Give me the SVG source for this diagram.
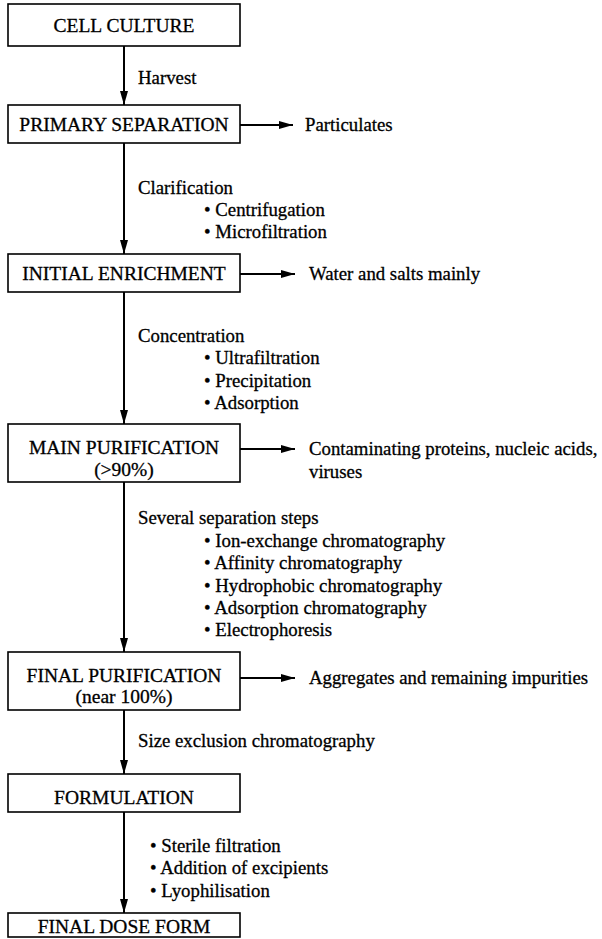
<svg xmlns="http://www.w3.org/2000/svg" width="602" height="939" viewBox="0 0 602 939">
  <style>
    .box { fill: #ffffff; stroke: #000000; stroke-width: 1.6; }
    .wire { stroke: #000000; stroke-width: 2; fill: none; }
    .lbl { font-family: "Liberation Serif", "Times New Roman", serif; font-size: 18.8px; fill: #000000; stroke: #000000; stroke-width: 0.3; }
    .ttl { font-family: "Liberation Serif", "Times New Roman", serif; font-size: 19.5px; fill: #000000; stroke: #000000; stroke-width: 0.3; text-anchor: middle; }
  </style>
  <defs>
    <marker id="head" viewBox="0 0 14 8" refX="14" refY="4" markerWidth="14" markerHeight="8" markerUnits="userSpaceOnUse" orient="auto">
      <path d="M0,0 L14,4 L0,8 Z" fill="#000000"/>
    </marker>
  </defs>
  <rect width="602" height="939" fill="#ffffff"/>

  <!-- process flow connectors -->
  <g id="connectors">
    <line class="wire" x1="124" y1="46" x2="124" y2="105" marker-end="url(#head)"/>
    <line class="wire" x1="124" y1="143" x2="124" y2="254" marker-end="url(#head)"/>
    <line class="wire" x1="124" y1="292" x2="124" y2="424" marker-end="url(#head)"/>
    <line class="wire" x1="124" y1="482" x2="124" y2="652" marker-end="url(#head)"/>
    <line class="wire" x1="124" y1="710" x2="124" y2="774" marker-end="url(#head)"/>
    <line class="wire" x1="124" y1="812" x2="124" y2="913" marker-end="url(#head)"/>
    <line class="wire" x1="240" y1="125" x2="293" y2="125" marker-end="url(#head)"/>
    <line class="wire" x1="240" y1="274" x2="295" y2="274" marker-end="url(#head)"/>
    <line class="wire" x1="240" y1="449" x2="295" y2="449" marker-end="url(#head)"/>
    <line class="wire" x1="240" y1="678" x2="295" y2="678" marker-end="url(#head)"/>
  </g>

  <!-- process stages -->
  <g id="cell-culture">
    <rect class="box" x="8" y="4" width="232" height="42"/>
    <text class="ttl" x="124" y="32">CELL CULTURE</text>
  </g>
  <g id="primary-separation">
    <rect class="box" x="8" y="105" width="232" height="38"/>
    <text class="ttl" x="124" y="131">PRIMARY SEPARATION</text>
  </g>
  <g id="initial-enrichment">
    <rect class="box" x="8" y="254" width="232" height="38"/>
    <text class="ttl" x="124" y="280">INITIAL ENRICHMENT</text>
  </g>
  <g id="main-purification">
    <rect class="box" x="8" y="424" width="232" height="58"/>
    <text class="ttl" x="124" y="454">MAIN PURIFICATION</text>
    <text class="ttl" x="124" y="476">(&gt;90%)</text>
  </g>
  <g id="final-purification">
    <rect class="box" x="8" y="652" width="232" height="58"/>
    <text class="ttl" x="124" y="682">FINAL PURIFICATION</text>
    <text class="ttl" x="124" y="703">(near 100%)</text>
  </g>
  <g id="formulation">
    <rect class="box" x="8" y="774" width="232" height="38"/>
    <text class="ttl" x="124" y="804">FORMULATION</text>
  </g>
  <g id="final-dose-form">
    <rect class="box" x="8" y="913" width="232" height="24"/>
    <text class="ttl" x="124" y="933">FINAL DOSE FORM</text>
  </g>

  <!-- removed material -->
  <g id="out-particulates"><text class="lbl" x="305" y="131">Particulates</text></g>
  <g id="out-water"><text class="lbl" x="309" y="280">Water and salts mainly</text></g>
  <g id="out-contaminants">
    <text class="lbl" x="309" y="455">Contaminating proteins, nucleic acids,</text>
    <text class="lbl" x="309" y="478">viruses</text>
  </g>
  <g id="out-aggregates"><text class="lbl" x="309" y="684">Aggregates and remaining impurities</text></g>

  <!-- step annotations -->
  <g id="step-harvest"><text class="lbl" x="138" y="84">Harvest</text></g>
  <g id="step-clarification">
    <text class="lbl" x="138" y="194">Clarification</text>
    <text class="lbl" x="204" y="216">• Centrifugation</text>
    <text class="lbl" x="204" y="238">• Microfiltration</text>
  </g>
  <g id="step-concentration">
    <text class="lbl" x="138" y="342">Concentration</text>
    <text class="lbl" x="204" y="364">• Ultrafiltration</text>
    <text class="lbl" x="204" y="387">• Precipitation</text>
    <text class="lbl" x="204" y="409">• Adsorption</text>
  </g>
  <g id="step-separation">
    <text class="lbl" x="138" y="524">Several separation steps</text>
    <text class="lbl" x="204" y="547">• Ion-exchange chromatography</text>
    <text class="lbl" x="204" y="569">• Affinity chromatography</text>
    <text class="lbl" x="204" y="592">• Hydrophobic chromatography</text>
    <text class="lbl" x="204" y="614">• Adsorption chromatography</text>
    <text class="lbl" x="204" y="636">• Electrophoresis</text>
  </g>
  <g id="step-size-exclusion"><text class="lbl" x="138" y="747">Size exclusion chromatography</text></g>
  <g id="step-finishing">
    <text class="lbl" x="150" y="852">• Sterile filtration</text>
    <text class="lbl" x="150" y="874">• Addition of excipients</text>
    <text class="lbl" x="150" y="897">• Lyophilisation</text>
  </g>
</svg>
